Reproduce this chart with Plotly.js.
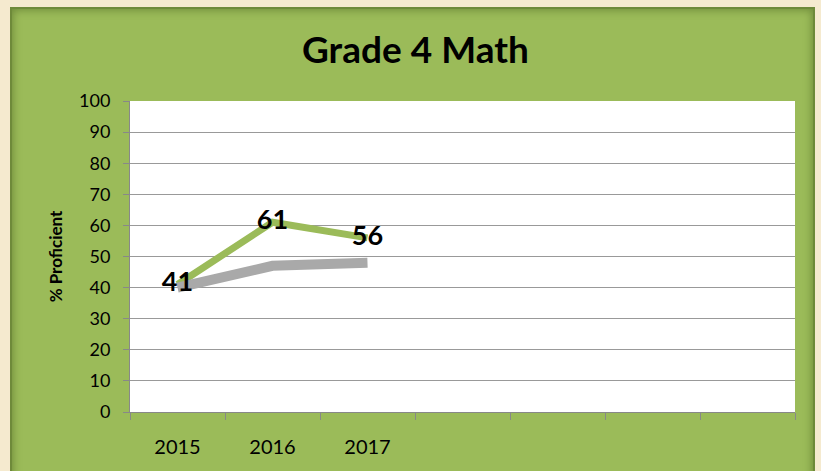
<!DOCTYPE html>
<html><head><meta charset="utf-8">
<script src="https://cdn.plot.ly/plotly-3.0.1.min.js"></script>
<style>
html,body{margin:0;padding:0;background:#F5EACF;width:821px;height:471px;overflow:hidden;}
#panel{position:absolute;left:10px;top:7px;width:805px;height:480px;background:#9BBB59;
 box-shadow: inset 0 0 0 2px #6E8A3A, inset 0 0 8px 3px #6E8A3A;}
#chart{position:absolute;left:0;top:0;width:821px;height:471px;}
</style></head>
<body><div id="panel"></div><div id="chart"></div>
<script>
var years = ['2015','2016','2017'];
var allCategories = ['2015','2016','2017',' ','  ','   ','    '];
var schoolValues = [41, 61, 56];
var stateValues = [40, 47, 48];
var labelValues = ['41','61','56'];
var yTicks = [0,10,20,30,40,50,60,70,80,90,100];

var font = 'Lato, "Open Sans", sans-serif';
var traces = [
 {x: years, y: schoolValues, type:'scatter', mode:'lines', line:{color:'#9BBB59', width:7}, hoverinfo:'none'},
 {x: years, y: stateValues, type:'scatter', mode:'lines', line:{color:'#A9A9A9', width:10}, hoverinfo:'none'},
 {x: years, y: schoolValues, type:'scatter', mode:'text', text: labelValues, textposition:'middle center',
  textfont:{family:font, size:27, color:'#000', weight:'bold'}, hoverinfo:'none'}
];
var layout = {
 width:821, height:471, showlegend:false,
 paper_bgcolor:'rgba(0,0,0,0)', plot_bgcolor:'#FFFFFF',
 margin:{l:130, r:26, t:101, b:59},
 title:{text:'<b>Grade 4 Math</b>', font:{family:font, size:37, color:'#000'}, x:0.506, xref:'container', xanchor:'center', y:0.894, yref:'container', yanchor:'middle'},
 xaxis:{type:'category', categoryarray: allCategories, categoryorder:'array', range:[-0.5,6.5],
  tickvals: years, ticktext: years, ticks:'', ticklabelstandoff:17,
  tickfont:{family:font, size:20, color:'#000'},
  showgrid:false, zeroline:false, showline:true, linecolor:'#888888', linewidth:1,
  minor:{tickmode:'array', tickvals:[-0.5,0.5,1.5,2.5,3.5,4.5,5.5,6.5], ticks:'outside', ticklen:7, tickcolor:'#888888', tickwidth:1, showgrid:false}
 },
 yaxis:{range:[0,100], tickvals:yTicks, ticks:'outside', ticklen:6, tickcolor:'#888888',
  tickfont:{family:font, size:18, color:'#000'}, ticklabelstandoff:9,
  showgrid:true, gridcolor:'#999999', gridwidth:1, zeroline:false, showline:true, linecolor:'#888888', linewidth:1,
  title:{text:'<b>% Proficient</b>', font:{family:font, size:17, color:'#000'}, standoff:12}
 }
};
Plotly.newPlot('chart', traces, layout, {displayModeBar:false, staticPlot:true});
</script></body></html>
